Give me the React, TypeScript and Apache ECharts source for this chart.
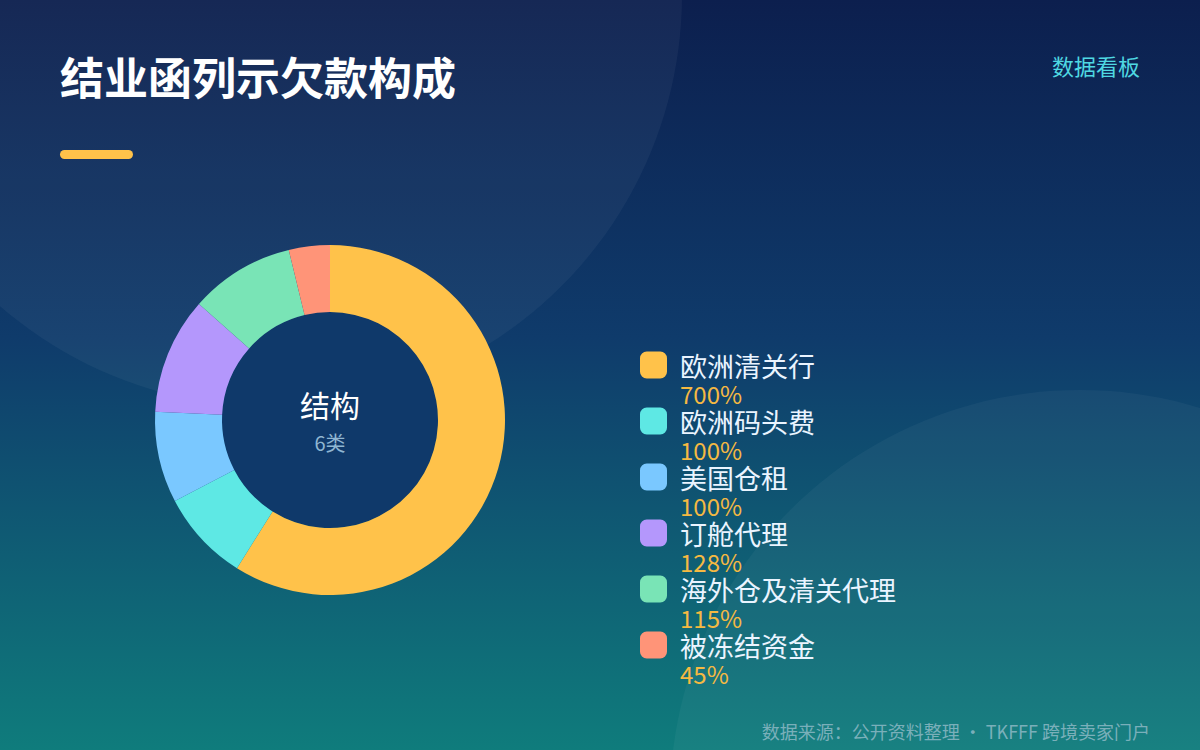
import React, { useEffect, useRef } from "react";
import * as echarts from "echarts";

const categories = ["欧洲清关行", "欧洲码头费", "美国仓租", "订舱代理", "海外仓及清关代理", "被冻结资金"];
const values = [700, 100, 100, 128, 115, 45];
const valueLabels = ["700%", "100%", "100%", "128%", "115%", "45%"];
const colors = ["#ffc24a", "#5ee8e4", "#7ac8ff", "#b497fc", "#79e4b6", "#ff9478"];

const TITLE = "结业函列示欠款构成";
const BADGE = "数据看板";
const CENTER_MAIN = "结构";
const CENTER_SUB = `${categories.length}类`;
const FOOTER = "数据来源：公开资料整理 · TKFFF 跨境卖家门户";

const FONT = "'Noto Sans CJK SC', 'Noto Sans', sans-serif";

export default function App() {
  const ref = useRef<HTMLDivElement>(null);

  useEffect(() => {
    if (!ref.current) return;
    const chart = echarts.init(ref.current, undefined, { renderer: "svg" });
    const data = categories.map((name, i) => ({
      name,
      value: values[i],
      itemStyle: { color: colors[i] },
    }));
    const labelMap: Record<string, string> = {};
    categories.forEach((c, i) => (labelMap[c] = valueLabels[i]));

    chart.setOption({
      animation: false,
      backgroundColor: {
        type: "linear",
        x: 0,
        y: 0,
        x2: 0,
        y2: 1,
        colorStops: [
          { offset: 0, color: "#0c1f4e" },
          { offset: 0.45, color: "#0f3b6b" },
          { offset: 1, color: "#0f7c7c" },
        ],
      },
      textStyle: { fontFamily: FONT },
      graphic: [
        {
          type: "circle",
          z: -10,
          silent: true,
          shape: { cx: 270, cy: -5, r: 412 },
          style: { fill: "rgba(255,255,255,0.045)" },
        },
        {
          type: "circle",
          z: -10,
          silent: true,
          shape: { cx: 1080, cy: 800, r: 410 },
          style: { fill: "rgba(255,255,255,0.04)" },
        },
        {
          type: "text",
          left: 60,
          top: 54,
          style: {
            text: TITLE,
            fill: "#ffffff",
            font: `bold 44px ${FONT}`,
          },
        },
        {
          type: "rect",
          shape: { x: 60, y: 150, width: 73, height: 9, r: 4.5 },
          style: { fill: "#ffc24a" },
        },
        {
          type: "text",
          right: 60,
          top: 54,
          style: {
            text: BADGE,
            fill: "#4fd8e2",
            font: `22px ${FONT}`,
          },
        },
        {
          type: "circle",
          z: 1,
          shape: { cx: 330, cy: 420, r: 108 },
          style: { fill: "#0f396a" },
        },
        {
          type: "text",
          z: 5,
          x: 330,
          y: 404,
          style: {
            text: CENTER_MAIN,
            fill: "#ffffff",
            font: `30px ${FONT}`,
            align: "center",
            verticalAlign: "middle",
          },
        },
        {
          type: "text",
          z: 5,
          x: 330,
          y: 442,
          style: {
            text: CENTER_SUB,
            fill: "#8fb6d2",
            font: `20px ${FONT}`,
            align: "center",
            verticalAlign: "middle",
          },
        },
        {
          type: "text",
          right: 50,
          top: 722,
          style: {
            text: FOOTER,
            fill: "rgba(190,210,225,0.6)",
            font: `18px ${FONT}`,
          },
        },
      ],
      legend: [
        {
          orient: "vertical",
          left: 640,
          top: 351.5,
          padding: 0,
          itemWidth: 27,
          itemHeight: 27,
          itemGap: 29,
          selectedMode: false,
          icon: "roundRect",
          data: categories,
          textStyle: {
            color: "#eaf4ff",
            fontSize: 27,
            lineHeight: 27,
            fontFamily: FONT,
            padding: [0, 0, 0, 8],
          },
        },
        {
          orient: "vertical",
          left: 674,
          top: 381,
          padding: 0,
          itemWidth: 1,
          itemHeight: 1,
          itemGap: 32,
          selectedMode: false,
          icon: "rect",
          itemStyle: { opacity: 0 },
          data: categories,
          formatter: (name: string) => labelMap[name],
          textStyle: {
            color: "#f5b942",
            fontSize: 24,
            lineHeight: 24,
            fontFamily: FONT,
          },
        },
      ],
      series: [
        {
          type: "pie",
          center: [330, 420],
          radius: [108, 175],
          startAngle: 90,
          clockwise: true,
          z: 2,
          label: { show: false },
          labelLine: { show: false },
          emphasis: { disabled: true },
          itemStyle: { borderWidth: 0 },
          data,
        },
      ],
    });
    return () => chart.dispose();
  }, []);

  return (
    <div
      ref={ref}
      style={{ position: "absolute", left: 0, top: 0, width: 1200, height: 750 }}
    />
  );
}
